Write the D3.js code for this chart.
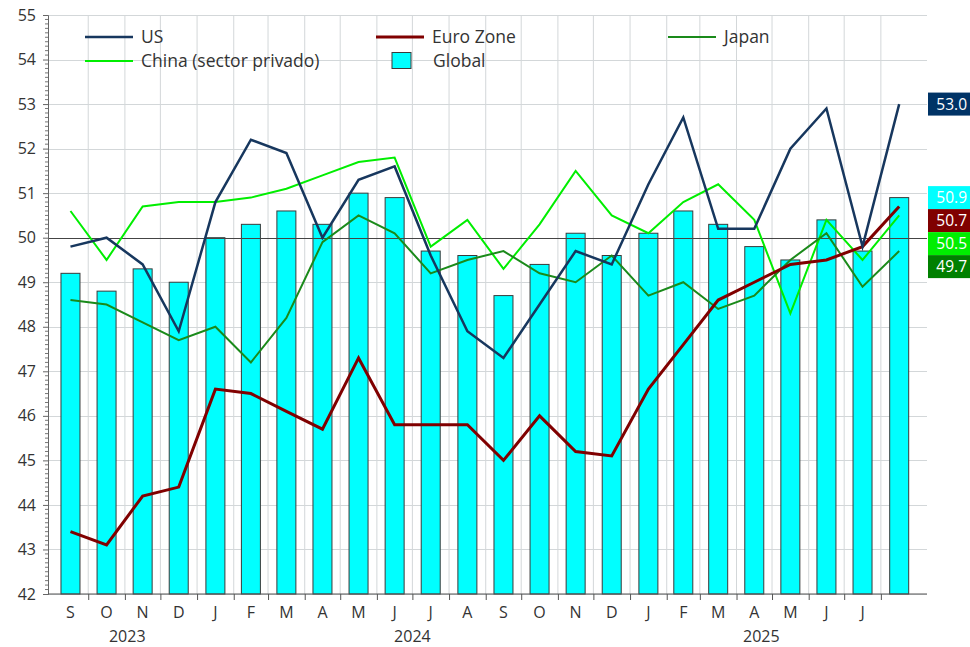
<!DOCTYPE html>
<html>
<head>
<meta charset="utf-8">
<script src="https://cdn.jsdelivr.net/npm/d3@7"></script>
<style>
  body { margin: 0; background: #fff; }
  svg { display: block; font-family: 'Open Sans', 'Noto Sans', sans-serif; }
</style>
</head>
<body>
<div id="chart"></div>
<script>
// monthly PMI readings, Sep 2023 .. Aug 2025
const months = ['2023-09','2023-10','2023-11','2023-12','2024-01','2024-02','2024-03','2024-04','2024-05','2024-06','2024-07','2024-08',
  '2024-09','2024-10','2024-11','2024-12','2025-01','2025-02','2025-03','2025-04','2025-05','2025-06','2025-07','2025-08'];
const monthLabels = ['S','O','N','D','J','F','M','A','M','J','J','A','S','O','N','D','J','F','M','A','M','J','J',''];
const yearLabels = ['2023','2024','2025'];
const yearLabelDates = ['2023-11-03','2024-07-01','2025-04-22'];

const global = [49.2,48.8,49.3,49.0,50.0,50.3,50.6,50.3,51.0,50.9,49.7,49.6,48.7,49.4,50.1,49.6,50.1,50.6,50.3,49.8,49.5,50.4,49.7,50.9];
const us     = [49.8,50.0,49.4,47.9,50.8,52.2,51.9,50.0,51.3,51.6,49.6,47.9,47.3,48.5,49.7,49.4,51.2,52.7,50.2,50.2,52.0,52.9,49.8,53.0];
const euro   = [43.4,43.1,44.2,44.4,46.6,46.5,46.1,45.7,47.3,45.8,45.8,45.8,45.0,46.0,45.2,45.1,46.6,47.6,48.6,49.0,49.4,49.5,49.8,50.7];
const japan  = [48.6,48.5,48.1,47.7,48.0,47.2,48.2,49.9,50.5,50.1,49.2,49.5,49.7,49.2,49.0,49.6,48.7,49.0,48.4,48.7,49.5,50.1,48.9,49.7];
const china  = [50.6,49.5,50.7,50.8,50.8,50.9,51.1,51.4,51.7,51.8,49.8,50.4,49.3,50.3,51.5,50.5,50.1,50.8,51.2,50.4,48.3,50.4,49.5,50.5];

const yTicks = d3.range(42, 56);

const W = 970, H = 647;
const margin = { left: 48, right: 43, top: 15, bottom: 53 };

const svg = d3.select('#chart').append('svg')
  .attr('width', W)
  .attr('height', H);

const parseMonth = d3.timeParse('%Y-%m');
const parseDay = d3.timeParse('%Y-%m-%d');
const starts = months.map(parseMonth);
// mid point of each month
const mids = starts.map(d => new Date((+d + +d3.timeMonth.offset(d, 1)) / 2));

const x = d3.scaleTime()
  .domain([parseDay('2023-08-28'), parseDay('2025-09-09')])
  .range([margin.left, W - margin.right]);

const y = d3.scaleLinear()
  .domain([42, 55])
  .range([H - margin.bottom, margin.top]);

// grid
const boundaries = starts.slice(1);
svg.append('g').selectAll('line.v')
  .data(boundaries)
  .join('line')
  .attr('x1', d => x(d)).attr('x2', d => x(d))
  .attr('y1', y(55)).attr('y2', y(42))
  .attr('stroke', '#d3d7d9').attr('stroke-width', 1);

svg.append('g').selectAll('line.h')
  .data(yTicks)
  .join('line')
  .attr('x1', margin.left).attr('x2', W - margin.right)
  .attr('y1', d => Math.round(y(d)) + 0.5).attr('y2', d => Math.round(y(d)) + 0.5)
  .attr('stroke', '#d3d7d9').attr('stroke-width', 1);

// bars
const bw = 19;
svg.append('g').selectAll('rect')
  .data(global)
  .join('rect')
  .attr('x', (d, i) => x(mids[i]) - bw / 2)
  .attr('y', d => y(d))
  .attr('width', bw)
  .attr('height', d => y(42) - y(d))
  .attr('fill', '#00ffff')
  .attr('stroke', '#3a3a3a')
  .attr('stroke-width', 1);

// 50 reference line
svg.append('line')
  .attr('x1', margin.left).attr('x2', W - margin.right)
  .attr('y1', Math.round(y(50)) + 0.5).attr('y2', Math.round(y(50)) + 0.5)
  .attr('stroke', '#444').attr('stroke-width', 1);

// lines
const series = [
  { name: 'China (sector privado)', values: china, color: '#00ee00', width: 2 },
  { name: 'Japan', values: japan, color: '#1a8a1a', width: 2 },
  { name: 'Euro Zone', values: euro, color: '#800000', width: 3 },
  { name: 'US', values: us, color: '#17375e', width: 2.5 }
];

const line = d3.line()
  .x((d, i) => x(mids[i]))
  .y(d => y(d));

series.forEach(s => {
  svg.append('path')
    .datum(s.values)
    .attr('fill', 'none')
    .attr('stroke', s.color)
    .attr('stroke-width', s.width)
    .attr('stroke-linejoin', 'miter')
    .attr('d', line);
});

// y axis
const yAxis = svg.append('g')
  .attr('transform', 'translate(' + margin.left + ',0)')
  .call(d3.axisLeft(y).tickValues(yTicks).tickSize(5).tickPadding(7).tickFormat(d3.format('d')));
yAxis.select('.domain').attr('stroke', '#666');
yAxis.selectAll('.tick line').attr('stroke', '#666');
yAxis.selectAll('text').attr('font-size', 16).attr('fill', '#333').attr('font-family', "'Open Sans', sans-serif");

const minor = d3.range(420, 551).filter(v => v % 10 !== 0).map(v => v / 10);
svg.append('g').selectAll('line')
  .data(minor)
  .join('line')
  .attr('x1', margin.left - 3).attr('x2', margin.left)
  .attr('y1', d => y(d)).attr('y2', d => y(d))
  .attr('stroke', '#777').attr('stroke-width', 1);

// x axis
const xAxis = svg.append('g')
  .attr('transform', 'translate(0,' + y(42) + ')')
  .call(d3.axisBottom(x).tickValues(boundaries).tickSize(6).tickFormat(''));
xAxis.select('.domain').attr('stroke', '#555').attr('d', 'M' + margin.left + ',0H' + (W - margin.right));
xAxis.selectAll('.tick line').attr('stroke', '#555');

svg.append('g').selectAll('text')
  .data(monthLabels)
  .join('text')
  .attr('x', (d, i) => x(mids[i]))
  .attr('y', 618)
  .attr('text-anchor', 'middle')
  .attr('font-size', 16)
  .attr('fill', '#333')
  .text(d => d);

svg.append('g').selectAll('text')
  .data(yearLabels)
  .join('text')
  .attr('x', (d, i) => x(parseDay(yearLabelDates[i])))
  .attr('y', 642)
  .attr('text-anchor', 'middle')
  .attr('font-size', 16)
  .attr('fill', '#333')
  .text(d => d);

// legend
const legend = [
  { name: 'US', color: '#17375e', w: 2.5, lx: 85, ly: 37 },
  { name: 'Euro Zone', color: '#800000', w: 3, lx: 376, ly: 37 },
  { name: 'Japan', color: '#1a8a1a', w: 2, lx: 668, ly: 37 },
  { name: 'China (sector privado)', color: '#00ee00', w: 2, lx: 85, ly: 61 }
];
legend.forEach(l => {
  svg.append('line')
    .attr('x1', l.lx).attr('x2', l.lx + 48)
    .attr('y1', l.ly).attr('y2', l.ly)
    .attr('stroke', l.color).attr('stroke-width', l.w);
  svg.append('text')
    .attr('x', l.lx + 56).attr('y', l.ly + 6)
    .attr('font-size', 17.5).attr('fill', '#333')
    .text(l.name);
});
svg.append('rect')
  .attr('x', 392).attr('y', 52.5).attr('width', 19).attr('height', 16)
  .attr('fill', '#00ffff').attr('stroke', '#3a3a3a');
svg.append('text')
  .attr('x', 433).attr('y', 67)
  .attr('font-size', 17.5).attr('fill', '#333')
  .text('Global');

// last value tags on the right
const tags = [
  { v: us[us.length - 1], color: '#003366' },
  { v: global[global.length - 1], color: '#00ffff' },
  { v: euro[euro.length - 1], color: '#800000' },
  { v: china[china.length - 1], color: '#00ee00' },
  { v: japan[japan.length - 1], color: '#008000' }
].sort((a, b) => b.v - a.v);

const tagH = 23;
let prev = -Infinity;
tags.forEach(t => {
  let cy = Math.max(y(t.v), prev + tagH);
  prev = cy;
  svg.append('rect')
    .attr('x', 928).attr('y', cy - tagH / 2)
    .attr('width', 42).attr('height', tagH)
    .attr('fill', t.color);
  svg.append('text')
    .attr('x', 967).attr('y', cy + 5.5)
    .attr('text-anchor', 'end')
    .attr('font-size', 15.5).attr('fill', '#fff')
    .text(d3.format('.1f')(t.v));
});
</script>
</body>
</html>
